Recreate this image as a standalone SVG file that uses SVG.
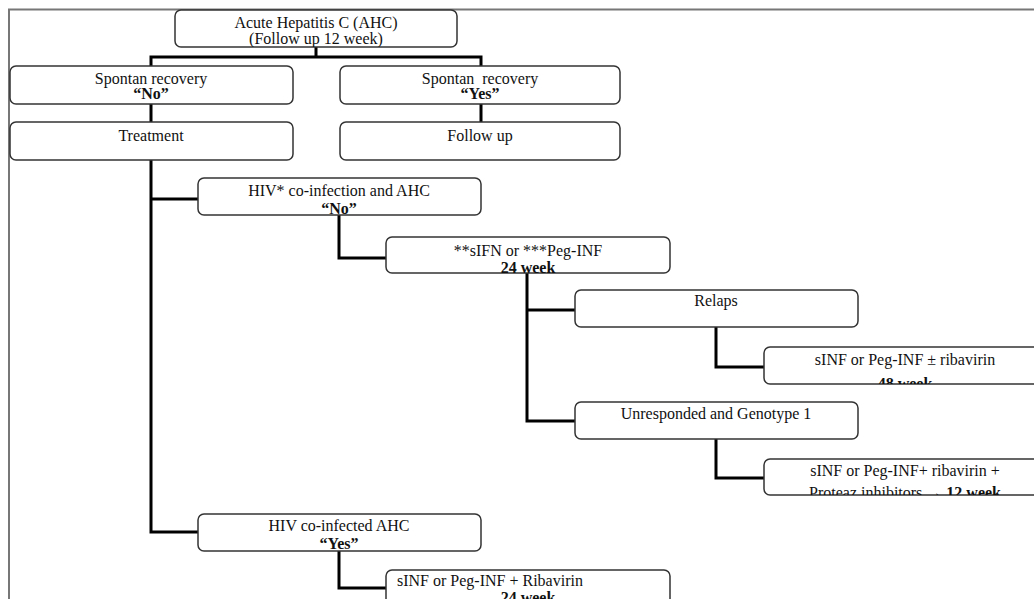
<svg xmlns="http://www.w3.org/2000/svg" width="1034" height="599" viewBox="0 0 1034 599">
<style>
.box{fill:#fff;stroke:#333;stroke-width:1.5}
.t{font-family:"Liberation Serif","Times New Roman",serif;font-size:16px;fill:#111;text-anchor:middle}
.b{font-weight:bold}
.con{fill:none;stroke:#000;stroke-width:3}
.frame{fill:none;stroke:#777;stroke-width:2}
</style>
<defs>
<clipPath id="c1"><rect x="175" y="10" width="282" height="37"/></clipPath>
<clipPath id="c2"><rect x="386" y="237" width="284" height="36"/></clipPath>
<clipPath id="c3"><rect x="764" y="347" width="283" height="37"/></clipPath>
<clipPath id="c4"><rect x="764" y="459" width="283" height="36"/></clipPath>
</defs>
<rect width="1034" height="599" fill="#fff"/>
<path class="frame" d="M9,599 V9.5 H1034"/>
<g id="connectors">
<path class="con" d="M316,47 V57 M151,66 V57 H481 V66"/>
<path class="con" d="M151,104 V122 M481,104 V122"/>
<path class="con" d="M151,160 V532 H198 M151,199 H198"/>
<path class="con" d="M339,215 V258 H386"/>
<path class="con" d="M527,273 V421 H575 M527,310 H575"/>
<path class="con" d="M716,327 V367 H764"/>
<path class="con" d="M716,439 V478 H764"/>
<path class="con" d="M339,551 V588 H386"/>
</g>
<g id="n-ahc">
<rect class="box" x="175" y="10" width="282" height="37" rx="6"/>
<g clip-path="url(#c1)"><text class="t" x="316" y="28">Acute Hepatitis C (AHC)</text>
<text class="t" x="316" y="44">(Follow up 12 week)</text></g>
</g>
<g id="n-no">
<rect class="box" x="10" y="66" width="283" height="38" rx="6"/>
<text class="t" x="151" y="84">Spontan recovery</text>
<text class="t b" x="151" y="99">“No”</text>
</g>
<g id="n-yes">
<rect class="box" x="340" y="66" width="280" height="38" rx="6"/>
<text class="t" x="480" y="84" xml:space="preserve">Spontan  recovery</text>
<text class="t b" x="480" y="99">“Yes”</text>
</g>
<g id="n-treatment">
<rect class="box" x="10" y="122" width="283" height="38" rx="6"/>
<text class="t" x="151" y="141">Treatment</text>
</g>
<g id="n-followup">
<rect class="box" x="340" y="122" width="280" height="38" rx="6"/>
<text class="t" x="480" y="141">Follow up</text>
</g>
<g id="n-hiv-no">
<rect class="box" x="198" y="178" width="283" height="37" rx="6"/>
<text class="t" x="339" y="196">HIV* co-infection and AHC</text>
<text class="t b" x="339" y="214">“No”</text>
</g>
<g id="n-sifn">
<rect class="box" x="386" y="237" width="284" height="36" rx="6"/>
<g clip-path="url(#c2)"><text class="t" x="528" y="256">**sIFN or ***Peg-INF</text>
<text class="t b" x="528" y="273">24 week</text></g>
</g>
<g id="n-relaps">
<rect class="box" x="575" y="290" width="283" height="37" rx="6"/>
<text class="t" x="716" y="306">Relaps</text>
</g>
<g id="n-relaps-tx">
<rect class="box" x="764" y="347" width="283" height="37" rx="6"/>
<g clip-path="url(#c3)"><text class="t" x="905" y="365">sINF or Peg-INF ± ribavirin</text>
<text class="t b" x="905" y="389">48 week</text></g>
</g>
<g id="n-unresp">
<rect class="box" x="575" y="402" width="283" height="37" rx="6"/>
<text class="t" x="716" y="419">Unresponded and Genotype 1</text>
</g>
<g id="n-unresp-tx">
<rect class="box" x="764" y="459" width="283" height="36" rx="6"/>
<g clip-path="url(#c4)"><text class="t" x="905" y="476">sINF or Peg-INF+ ribavirin +</text>
<text class="t" x="905" y="498">Proteaz inhibitors  <tspan>→</tspan> <tspan class="b">12 week</tspan></text></g>
</g>
<g id="n-hiv-yes">
<rect class="box" x="198" y="514" width="283" height="37" rx="6"/>
<text class="t" x="339" y="531">HIV co-infected AHC</text>
<text class="t b" x="339" y="549">“Yes”</text>
</g>
<g id="n-hiv-tx">
<rect class="box" x="386" y="570" width="284" height="40" rx="6"/>
<text class="t" x="397" y="586" style="text-anchor:start">sINF  or Peg-INF + Ribavirin</text>
<text class="t b" x="528" y="603">24 week</text>
</g>
</svg>
